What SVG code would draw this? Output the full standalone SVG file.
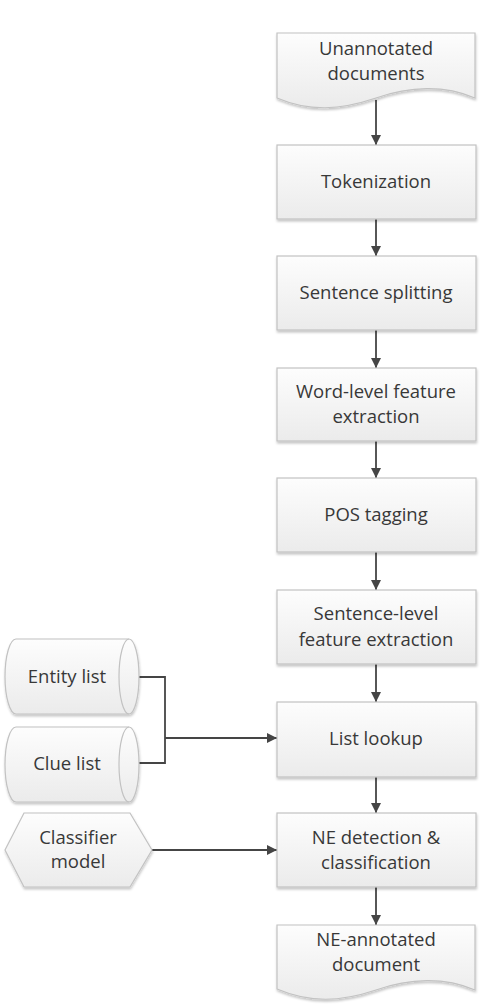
<svg xmlns="http://www.w3.org/2000/svg" width="484" height="1007" viewBox="0 0 484 1007">
<style>
.shape{fill:url(#g);stroke:#c2c2c2;stroke-width:1.2;filter:url(#sh)}
.face{fill:none;stroke:#c2c2c2;stroke-width:1.2}
.t{font-family:"Open Sans","Liberation Sans",sans-serif;font-size:18.5px;fill:#383838;text-anchor:middle}
.c{fill:none;stroke:#454545;stroke-width:1.8}
</style>
<defs>
<linearGradient id="g" x1="0" y1="0" x2="0" y2="1">
<stop offset="0" stop-color="#fdfdfd"/>
<stop offset="1" stop-color="#ebebeb"/>
</linearGradient>
<filter id="sh" x="-10%" y="-10%" width="120%" height="130%">
<feDropShadow dx="0.5" dy="2" stdDeviation="1.2" flood-color="#000" flood-opacity="0.22"/>
</filter>
<marker id="ah" viewBox="0 0 10 10" refX="10" refY="5" markerWidth="10" markerHeight="10" markerUnits="userSpaceOnUse" orient="auto">
<path d="M0,0 L10,5 L0,10 Z" fill="#454545"/>
</marker>
</defs>

<g id="connectors">
<line class="c" x1="376" y1="100" x2="376" y2="145" marker-end="url(#ah)"/>
<line class="c" x1="376" y1="219" x2="376" y2="256" marker-end="url(#ah)"/>
<line class="c" x1="376" y1="330" x2="376" y2="368" marker-end="url(#ah)"/>
<line class="c" x1="376" y1="441" x2="376" y2="478" marker-end="url(#ah)"/>
<line class="c" x1="376" y1="552" x2="376" y2="590" marker-end="url(#ah)"/>
<line class="c" x1="376" y1="664" x2="376" y2="702" marker-end="url(#ah)"/>
<line class="c" x1="376" y1="777" x2="376" y2="813" marker-end="url(#ah)"/>
<line class="c" x1="376" y1="887" x2="376" y2="925" marker-end="url(#ah)"/>
<polyline class="c" points="138,677 165,677 165,763 128,763"/>
<line class="c" x1="165" y1="738" x2="277" y2="738" marker-end="url(#ah)"/>
<line class="c" x1="152" y1="850" x2="277" y2="850" marker-end="url(#ah)"/>
</g>

<g id="unannotated-documents">
<path class="shape" d="M277,33 H475 V98 C445,85 410,86 376,98 C340,110 310,112 277,98 Z"/>
<text class="t" x="376" y="55">Unannotated</text>
<text class="t" x="376" y="80">documents</text>
</g>

<g id="tokenization">
<rect class="shape" x="277" y="145" width="199" height="74"/>
<text class="t" x="376" y="188">Tokenization</text>
</g>

<g id="sentence-splitting">
<rect class="shape" x="277" y="256" width="199" height="74"/>
<text class="t" x="376" y="299">Sentence splitting</text>
</g>

<g id="word-level">
<rect class="shape" x="277" y="368" width="199" height="73"/>
<text class="t" x="376" y="398">Word-level feature</text>
<text class="t" x="376" y="423">extraction</text>
</g>

<g id="pos-tagging">
<rect class="shape" x="277" y="478" width="199" height="74"/>
<text class="t" x="376" y="521">POS tagging</text>
</g>

<g id="sentence-level">
<rect class="shape" x="277" y="590" width="199" height="74"/>
<text class="t" x="376" y="620">Sentence-level</text>
<text class="t" x="376" y="646">feature extraction</text>
</g>

<g id="list-lookup">
<rect class="shape" x="277" y="702" width="199" height="75"/>
<text class="t" x="376" y="745">List lookup</text>
</g>

<g id="ne-detection">
<rect class="shape" x="277" y="813" width="199" height="74"/>
<text class="t" x="376" y="844">NE detection &amp;</text>
<text class="t" x="376" y="869">classification</text>
</g>

<g id="ne-annotated-document">
<path class="shape" d="M277,925 H475 V990 C445,977 410,978 376,990 C340,1002 310,1003 277,989 Z"/>
<text class="t" x="376" y="946">NE-annotated</text>
<text class="t" x="376" y="971">document</text>
</g>

<g id="entity-list">
<path class="shape" d="M16,639 H129 A10,37.5 0 0 1 129,714 H16 A11,37.5 0 0 1 16,639 Z"/>
<path class="face" d="M129,639 A10,37.5 0 0 0 129,714"/>
<text class="t" x="67" y="683">Entity list</text>
</g>

<g id="clue-list">
<path class="shape" d="M16,727 H129 A10,37.5 0 0 1 129,802 H16 A11,37.5 0 0 1 16,727 Z"/>
<path class="face" d="M129,727 A10,37.5 0 0 0 129,802"/>
<text class="t" x="67" y="770">Clue list</text>
</g>

<g id="classifier-model">
<polygon class="shape" points="5,850 24,813 130,813 152,850 130,887 24,887"/>
<text class="t" x="78" y="844">Classifier</text>
<text class="t" x="78" y="868">model</text>
</g>
</svg>
